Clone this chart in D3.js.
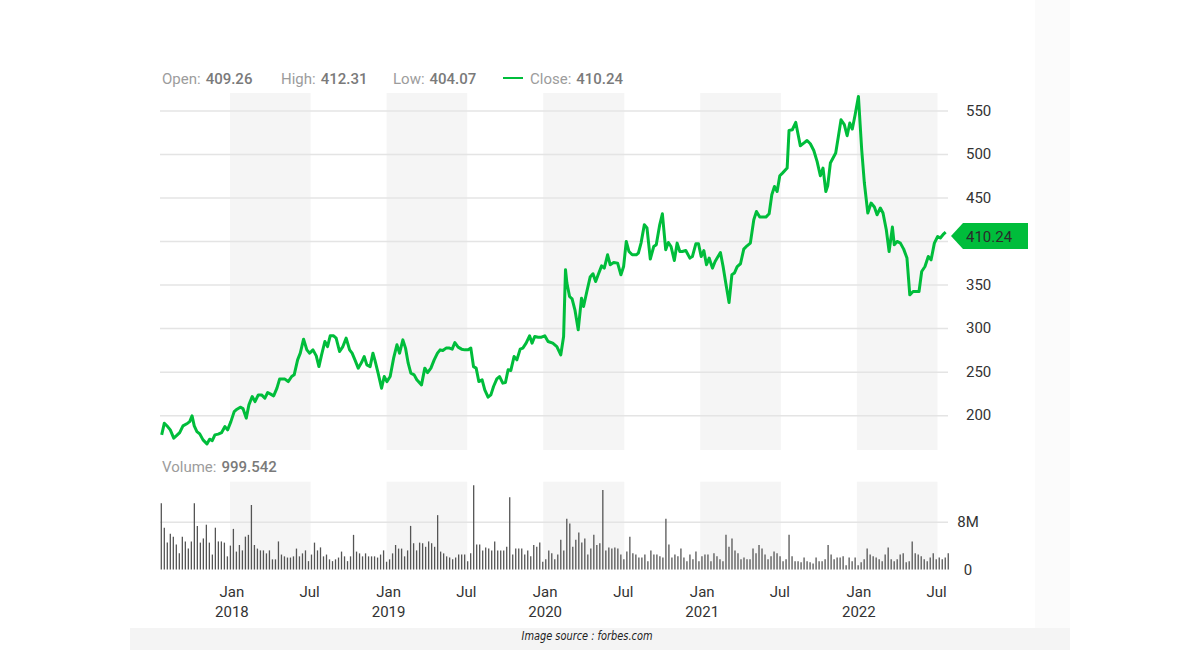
<!DOCTYPE html>
<html>
<head>
<meta charset="utf-8">
<script src="https://cdn.jsdelivr.net/npm/d3@7"></script>
<style>
  body { margin: 0; background: #fff; }
  svg { display: block; }
  text { font-family: Roboto, "Open Sans", sans-serif; }
</style>
</head>
<body>
<svg id="chart"></svg>
<script>
// ---- data ----
// closing price, time stored as decimal year
const priceTimes = [
  2017.564,2017.581,2017.602,2017.619,2017.641,2017.657,2017.679,2017.700,2017.730,2017.743,
  2017.758,2017.772,2017.789,2017.807,2017.828,2017.853,2017.870,2017.887,2017.904,2017.925,
  2017.947,2017.968,2017.985,2018.006,2018.027,2018.045,2018.066,2018.083,2018.104,2018.121,
  2018.142,2018.160,2018.181,2018.202,2018.223,2018.241,2018.257,2018.279,2018.300,2018.317,
  2018.351,2018.372,2018.394,2018.410,2018.432,2018.449,2018.470,2018.491,2018.509,2018.530,
  2018.551,2018.568,2018.585,2018.606,2018.623,2018.640,2018.662,2018.678,2018.700,2018.721,
  2018.742,2018.764,2018.780,2018.798,2018.819,2018.840,2018.857,2018.874,2018.895,2018.913,
  2018.925,2018.946,2018.968,2018.985,2019.002,2019.023,2019.045,2019.066,2019.083,2019.104,
  2019.121,2019.138,2019.155,2019.176,2019.193,2019.223,2019.244,2019.262,2019.283,2019.304,
  2019.325,2019.342,2019.359,2019.380,2019.402,2019.419,2019.436,2019.457,2019.479,2019.500,
  2019.521,2019.538,2019.555,2019.572,2019.589,2019.610,2019.627,2019.648,2019.666,2019.683,
  2019.704,2019.721,2019.742,2019.759,2019.776,2019.793,2019.814,2019.832,2019.853,2019.870,
  2019.891,2019.913,2019.929,2019.946,2019.968,2019.989,2020.010,2020.031,2020.061,2020.087,
  2020.112,2020.130,2020.142,2020.151,2020.168,2020.184,2020.202,2020.223,2020.244,2020.257,
  2020.278,2020.299,2020.317,2020.334,2020.350,2020.372,2020.389,2020.410,2020.427,2020.449,
  2020.474,2020.495,2020.512,2020.529,2020.546,2020.567,2020.593,2020.606,2020.623,2020.644,
  2020.661,2020.682,2020.704,2020.720,2020.742,2020.759,2020.780,2020.797,2020.814,2020.835,
  2020.853,2020.870,2020.886,2020.908,2020.934,2020.950,2020.972,2020.989,2021.006,2021.023,
  2021.040,2021.057,2021.078,2021.095,2021.108,2021.129,2021.146,2021.163,2021.184,2021.202,
  2021.218,2021.236,2021.257,2021.278,2021.299,2021.320,2021.342,2021.359,2021.380,2021.419,
  2021.440,2021.457,2021.474,2021.491,2021.508,2021.525,2021.555,2021.567,2021.588,2021.610,
  2021.623,2021.639,2021.661,2021.682,2021.703,2021.725,2021.746,2021.767,2021.784,2021.802,
  2021.814,2021.831,2021.848,2021.865,2021.882,2021.899,2021.920,2021.938,2021.955,2021.971,
  2021.989,2022.010,2022.031,2022.048,2022.070,2022.091,2022.112,2022.129,2022.150,2022.167,
  2022.188,2022.206,2022.227,2022.239,2022.257,2022.278,2022.299,2022.320,2022.338,2022.359,
  2022.397,2022.414,2022.435,2022.456,2022.474,2022.495,2022.516,2022.533,2022.555,2022.567
];
const priceClose = [
  177.4,190.8,186.9,183.1,173.6,176.2,180.0,187.7,190.8,192.6,
  199.2,187.7,181.2,178.5,171.6,167.0,172.4,170.8,177.4,178.2,
  180.0,186.9,183.1,192.6,204.1,206.9,209.2,207.6,196.6,211.8,
  221.4,215.6,223.3,223.3,219.5,226.0,224.5,222.2,231.0,241.4,
  241.4,238.6,244.4,246.3,263.5,271.2,287.3,275.0,271.2,275.0,
  268.1,255.8,269.3,284.6,278.8,291.1,291.1,288.5,273.1,278.8,
  288.5,275.0,271.2,263.5,254.0,260.4,267.3,257.8,255.8,271.2,
  263.5,248.3,231.0,244.4,238.6,244.4,265.5,280.8,271.2,286.5,
  277.0,259.7,248.3,246.3,240.6,234.8,254.0,248.9,254.0,263.5,
  271.2,275.0,274.2,277.0,277.0,275.8,283.4,278.1,275.8,275.0,
  275.0,277.0,255.8,254.0,238.6,240.6,229.1,220.7,223.3,232.9,
  241.7,244.4,236.8,237.5,252.1,251.2,267.3,263.5,275.8,277.0,
  282.7,291.1,282.7,290.3,289.6,289.6,291.1,284.6,282.7,278.8,
  269.3,290.3,367.0,351.7,336.3,333.6,321.0,298.0,334.4,324.8,
  342.0,358.6,362.4,353.5,361.2,371.5,368.9,384.2,372.7,375.3,
  374.6,361.2,370.7,399.5,388.0,384.2,384.2,386.1,397.6,418.7,
  414.9,379.3,393.7,395.7,418.7,431.3,390.0,398.3,393.7,377.6,
  397.6,388.0,388.0,389.1,380.4,382.2,396.8,396.8,382.2,389.1,
  372.7,380.4,368.9,376.5,380.4,386.8,370.7,351.7,329.4,361.2,
  363.2,370.7,373.9,390.7,394.5,397.6,424.4,433.9,427.5,427.5,
  431.3,453.1,462.7,456.9,475.0,478.0,483.8,527.0,527.8,536.2,
  524.0,509.4,512.5,515.5,511.7,504.0,491.4,475.0,483.8,456.9,
  463.5,489.6,495.3,501.0,520.1,539.3,533.6,520.9,535.5,528.6,
  545.0,566.1,504.8,466.6,432.1,443.6,439.0,430.2,437.9,432.1,
  412.9,388.0,416.0,395.7,399.5,397.6,390.7,380.4,338.2,342.0,
  342.0,365.0,370.7,382.2,378.4,397.6,405.2,403.4,408.3,410.24
];

// weekly volume in millions, first week starting on volumeStart
const volumeStart = "2017-07-25";
const volumeMillions = [
  11.1,7.0,4.5,6.0,5.5,4.2,2.7,5.5,4.7,3.5,
  4.7,11.1,7.3,4.5,5.2,7.5,4.5,2.5,7.0,4.7,
  4.7,4.5,2.2,4.0,6.8,3.0,4.1,3.2,5.5,5.8,
  10.8,4.1,3.5,3.2,3.2,2.7,3.2,1.7,1.7,4.7,
  2.5,2.2,2.0,2.0,2.2,3.5,2.2,2.7,3.2,1.4,
  2.5,4.5,3.2,3.7,2.2,2.5,1.7,1.4,1.7,2.0,
  3.0,2.2,1.4,2.2,5.8,3.0,2.7,2.2,2.7,2.2,
  2.2,2.2,2.0,2.5,3.2,1.3,1.7,2.7,4.1,3.5,
  3.5,2.2,3.2,7.3,4.4,3.2,4.5,4.4,3.8,4.7,
  4.4,3.8,9.1,3.0,2.7,2.2,2.0,1.7,2.0,2.5,
  2.5,2.5,1.4,2.7,14.1,4.2,4.2,3.2,3.7,3.5,
  3.2,4.7,3.2,3.2,3.2,3.8,12.1,2.5,3.5,3.5,
  3.5,2.5,3.2,2.2,4.1,3.8,4.5,1.3,1.7,3.2,
  2.7,1.7,2.5,5.0,3.2,8.5,7.7,3.8,5.0,6.2,
  4.5,5.2,2.5,3.5,5.8,4.1,4.4,13.3,3.2,3.7,
  3.5,3.7,3.5,2.5,1.7,3.0,5.5,2.7,2.5,2.0,
  2.0,2.5,1.4,3.2,2.5,2.5,2.2,2.0,8.5,4.2,
  2.0,2.5,2.2,3.5,2.0,1.4,2.5,1.7,3.0,1.4,
  2.2,2.5,2.5,1.4,2.7,2.2,1.7,1.4,5.8,3.8,
  5.2,3.2,2.7,1.7,2.0,1.7,1.7,3.5,2.7,4.1,
  3.5,2.5,1.7,2.2,3.0,2.7,2.2,1.4,1.7,5.8,
  2.2,1.4,1.4,1.2,2.0,1.4,1.2,1.0,2.0,1.4,
  1.4,1.7,4.1,2.5,1.7,2.0,2.0,2.2,0.7,2.0,
  1.4,2.0,0.7,1.2,1.7,3.5,2.5,2.2,2.0,1.7,
  1.4,2.5,3.7,1.7,1.4,1.7,2.5,2.7,1.2,1.4,
  4.7,2.7,2.5,2.2,1.7,1.4,2.0,2.7,1.7,2.0,
  1.7,2.0,2.7
];

const priceTicks = [200, 250, 300, 350, 400, 450, 500, 550];
const volumeTicks = [0, 8];
const bandYears = [2018, 2019, 2020, 2021, 2022];
const summary = [
  { label: "Open:", value: "409.26" },
  { label: "High:", value: "412.31" },
  { label: "Low:", value: "404.07" }
];
const lastClose = "410.24";
const volumeText = "999.542";

// ---- setup ----
const width = 1200;
const height = 650;
const green = "#00bd3b";

const svg = d3.select("#chart")
  .attr("width", width)
  .attr("height", height)
  .attr("viewBox", `0 0 ${width} ${height}`);

// decimal year -> Date (UTC)
function yearToDate(t) {
  const yr = Math.floor(t);
  const a = Date.UTC(yr, 0, 1);
  const b = Date.UTC(yr + 1, 0, 1);
  return new Date(a + (t - yr) * (b - a));
}

const prices = priceTimes.map((t, i) => ({ date: yearToDate(t), close: priceClose[i] }));
const startDay = new Date(volumeStart + "T00:00:00Z");
const volumes = volumeMillions.map((v, i) => ({ date: d3.utcDay.offset(startDay, i * 7), vol: v }));

const plotLeft = 160, plotRight = 948;
const priceTop = 93, priceBottom = 450;
const volTop = 481.7, volBottom = 569.5;

const x = d3.scaleUtc()
  .domain([yearToDate(2017.5533), yearToDate(2022.582)])
  .range([plotLeft, plotRight]);

const y = d3.scaleLinear().domain([160, 570]).range([priceBottom, priceTop]);
const yVol = d3.scaleLinear().domain([0, 14.7]).range([volBottom, volTop]);

// page strips
svg.append("rect")
  .attr("x", 1035).attr("y", 0).attr("width", 35).attr("height", 628)
  .attr("fill", "#fbfbfb");
svg.append("rect")
  .attr("x", 130).attr("y", 628).attr("width", 940).attr("height", 22)
  .attr("fill", "#f4f4f4");

// half-year shaded bands (Jan - Jul)
const bands = svg.append("g");
bandYears.forEach(yr => {
  const x0 = x(new Date(Date.UTC(yr, 0, 1)));
  const x1 = x(new Date(Date.UTC(yr, 6, 1))) + 3;
  bands.append("rect")
    .attr("x", x0).attr("y", priceTop)
    .attr("width", x1 - x0).attr("height", priceBottom - priceTop)
    .attr("fill", "#f5f5f5");
  bands.append("rect")
    .attr("x", x0).attr("y", volTop)
    .attr("width", x1 - x0).attr("height", volBottom - volTop)
    .attr("fill", "#f5f5f5");
});

// price grid + labels (the 400 label sits under the last-price marker)
const yAxisG = svg.append("g")
  .attr("transform", `translate(${plotRight},0)`)
  .call(d3.axisRight(y).tickValues(priceTicks)
    .tickSize(-(plotRight - plotLeft)).tickPadding(18)
    .tickFormat(d => d === 400 ? "" : d));
yAxisG.select(".domain").remove();
yAxisG.selectAll("line").attr("stroke", "#e4e4e4").attr("stroke-width", 1.5);
yAxisG.selectAll("text")
  .attr("fill", "#333")
  .style("font-size", "15px")
  .style("font-family", "Roboto, sans-serif");

// volume grid + labels
const vAxisG = svg.append("g")
  .attr("transform", `translate(${plotRight},0)`)
  .call(d3.axisRight(yVol).tickValues(volumeTicks)
    .tickSize(-(plotRight - plotLeft)).tickPadding(0)
    .tickFormat(d => d === 0 ? "0" : d + "M"));
vAxisG.select(".domain").remove();
vAxisG.selectAll("line")
  .attr("stroke", d => d === 0 ? "none" : "#e4e4e4")
  .attr("stroke-width", 1.5);
vAxisG.selectAll("text")
  .attr("x", 20)
  .attr("text-anchor", "middle")
  .attr("fill", "#333")
  .style("font-size", "15px")
  .style("font-family", "Roboto, sans-serif");

// volume bars
svg.append("g")
  .selectAll("line")
  .data(volumes)
  .join("line")
  .attr("x1", d => x(d.date)).attr("x2", d => x(d.date))
  .attr("y1", yVol(0)).attr("y2", d => yVol(d.vol))
  .attr("stroke", "#555")
  .attr("stroke-width", 1.3);

// price line
const lineGenerator = d3.line()
  .x(d => x(d.date))
  .y(d => y(d.close));

svg.append("path")
  .datum(prices)
  .attr("fill", "none")
  .attr("stroke", green)
  .attr("stroke-width", 3)
  .attr("stroke-linejoin", "round")
  .attr("d", lineGenerator);

// last price marker
const last = prices[prices.length - 1];
const ly = y(last.close) + 4;
svg.append("path")
  .attr("d", `M951,${ly} L963,${ly - 13} L1028,${ly - 13} L1028,${ly + 13} L963,${ly + 13} Z`)
  .attr("fill", green);
svg.append("text")
  .attr("x", 966).attr("y", ly)
  .attr("dy", "0.36em")
  .attr("fill", "#2b2b2b")
  .style("font-size", "15px")
  .text(lastClose);

// header: Open / High / Low / Close
const headerX = [162, 281, 393];
summary.forEach((s, i) => {
  const t = svg.append("text")
    .attr("x", headerX[i]).attr("y", 84)
    .style("font-size", "15px");
  t.append("tspan").attr("fill", "#9c9c9c").text(s.label);
  t.append("tspan").attr("dx", 5).attr("fill", "#7a7a7a").attr("font-weight", 500).text(s.value);
});
svg.append("line")
  .attr("x1", 503).attr("x2", 523).attr("y1", 78).attr("y2", 78)
  .attr("stroke", green).attr("stroke-width", 2);
const closeT = svg.append("text")
  .attr("x", 530).attr("y", 84)
  .style("font-size", "15px");
closeT.append("tspan").attr("fill", "#9c9c9c").text("Close:");
closeT.append("tspan").attr("dx", 5).attr("fill", "#7a7a7a").attr("font-weight", 500).text(lastClose);

// volume title
const volT = svg.append("text")
  .attr("x", 162).attr("y", 472)
  .style("font-size", "15px");
volT.append("tspan").attr("fill", "#9c9c9c").text("Volume:");
volT.append("tspan").attr("dx", 5).attr("fill", "#7a7a7a").attr("font-weight", 500).text(volumeText);

// x axis labels
const xTicks = [];
bandYears.forEach(yr => {
  xTicks.push(new Date(Date.UTC(yr, 0, 1)));
  xTicks.push(new Date(Date.UTC(yr, 6, 1)));
});
const xLabels = svg.append("g");
xTicks.forEach(d => {
  const isJan = d.getUTCMonth() === 0;
  const t = xLabels.append("text")
    .attr("x", x(d) + 2).attr("y", 597)
    .attr("text-anchor", "middle")
    .attr("fill", "#333")
    .style("font-size", "15px");
  t.append("tspan").text(isJan ? "Jan" : "Jul");
  if (isJan) {
    t.append("tspan").attr("x", x(d) + 2).attr("dy", 20).text(d.getUTCFullYear());
  }
});

// footer
svg.append("text")
  .attr("x", 587).attr("y", 640)
  .attr("text-anchor", "middle")
  .attr("fill", "#222")
  .attr("textLength", 131)
  .attr("lengthAdjust", "spacingAndGlyphs")
  .style("font-size", "12px")
  .style("font-style", "italic")
  .style("font-family", "'Liberation Sans Narrow', 'DejaVu Sans Condensed', sans-serif")
  .text("Image source : forbes.com");
</script>
</body>
</html>
